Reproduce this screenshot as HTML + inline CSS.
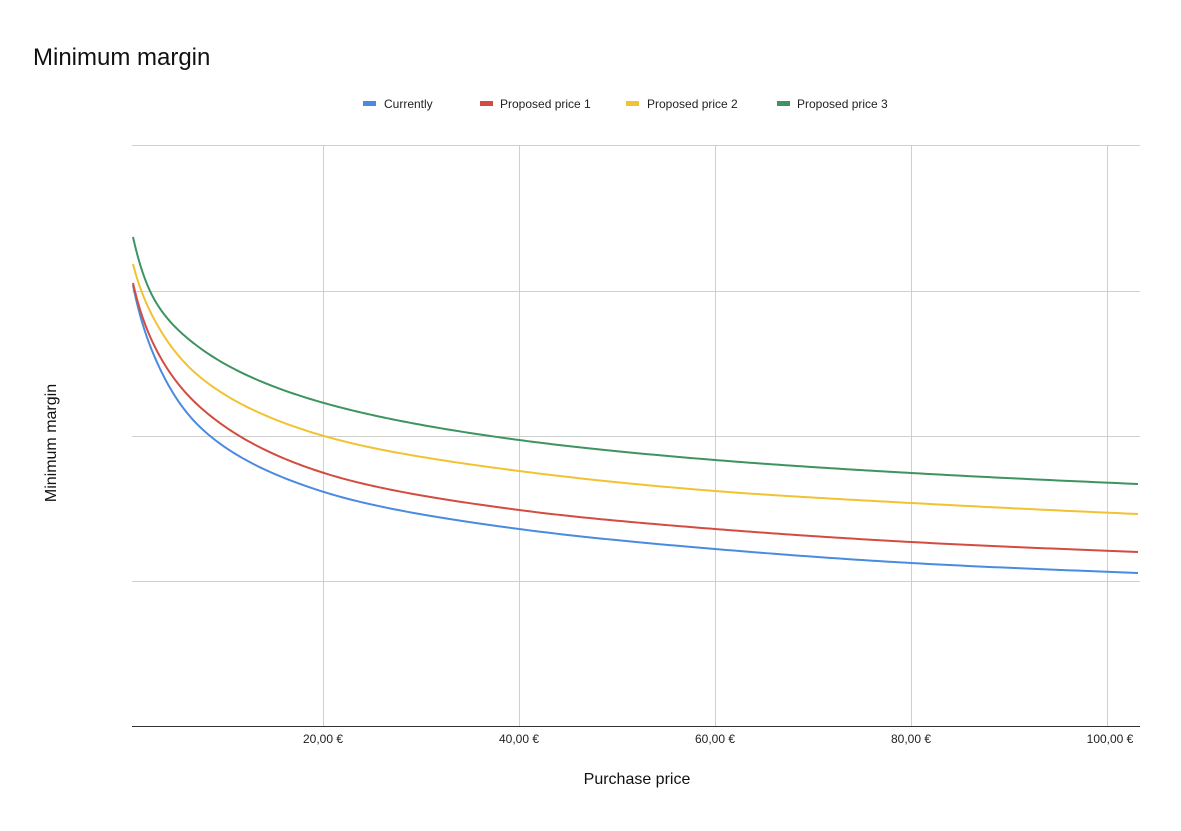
<!DOCTYPE html>
<html><head><meta charset="utf-8"><style>
body{margin:0;background:#fff;}
svg{display:block;font-family:"Liberation Sans",sans-serif;}
</style></head><body>
<svg id="c" width="1181" height="831" viewBox="0 0 1181 831" xmlns="http://www.w3.org/2000/svg">
<rect width="1181" height="831" fill="#fff"/>
<text x="33" y="65" font-size="24" fill="#111">Minimum margin</text>
<g font-size="12" fill="#222">
<rect x="363" y="101" width="13" height="5" fill="#4a8be0"/><text x="384" y="108">Currently</text>
<rect x="480" y="101" width="13" height="5" fill="#d24c3f"/><text x="500" y="108">Proposed price 1</text>
<rect x="626" y="101" width="13" height="5" fill="#f2c232"/><text x="647" y="108">Proposed price 2</text>
<rect x="777" y="101" width="13" height="5" fill="#3f9360"/><text x="797" y="108">Proposed price 3</text>
</g>
<g stroke="#cfcfcf" stroke-width="1">
<line x1="132" y1="145.5" x2="1140" y2="145.5"/>
<line x1="132" y1="291.5" x2="1140" y2="291.5"/>
<line x1="132" y1="436.5" x2="1140" y2="436.5"/>
<line x1="132" y1="581.5" x2="1140" y2="581.5"/>
<line x1="323.5" y1="145" x2="323.5" y2="726"/>
<line x1="519.5" y1="145" x2="519.5" y2="726"/>
<line x1="715.5" y1="145" x2="715.5" y2="726"/>
<line x1="911.5" y1="145" x2="911.5" y2="726"/>
<line x1="1107.5" y1="145" x2="1107.5" y2="726"/>
</g>
<line x1="132" y1="726.5" x2="1140" y2="726.5" stroke="#333" stroke-width="1"/>
<g font-size="12" fill="#222" text-anchor="middle">
<text x="323" y="743">20,00 €</text>
<text x="519" y="743">40,00 €</text>
<text x="715" y="743">60,00 €</text>
<text x="911" y="743">80,00 €</text>
<text x="1110" y="743">100,00 €</text>
</g>
<text x="637" y="784" font-size="16" fill="#111" text-anchor="middle">Purchase price</text>
<text transform="translate(56,443) rotate(-90)" font-size="16" fill="#111" text-anchor="middle">Minimum margin</text>
<g id="lines" fill="none" stroke-width="2" stroke-linejoin="round"></g>
</svg>
<script>
var series=[
["#4a8be0",[[133,285],[153,353],[200,427],[324,492],[519,529],[715,549],[911,563],[1138,573]]],
["#d24c3f",[[133,283],[153,343],[200,407],[324,473],[519,510],[715,529],[911,542],[1138,552]]],
["#f2c232",[[133,264],[153,317],[200,377],[324,436],[519,471],[715,491],[911,503],[1138,514]]],
["#3f9360",[[133,237],[153,297],[200,348],[324,403],[519,440],[715,460],[911,473],[1138,484]]]
];
function T(px){return Math.log((px-127)/9.8+1.2);}
function TI(t){return (Math.exp(t)-1.2)*9.8+127;}
var g=document.getElementById('lines');
series.forEach(function(s){
 var p=s[1].map(function(q){return [T(q[0]),q[1]];});
 var n=p.length,m=[];
 for(var i=0;i<n;i++){
  if(i==0)m.push((p[1][1]-p[0][1])/(p[1][0]-p[0][0]));
  else if(i==n-1)m.push((p[n-1][1]-p[n-2][1])/(p[n-1][0]-p[n-2][0]));
  else m.push((p[i+1][1]-p[i-1][1])/(p[i+1][0]-p[i-1][0]));
 }
 var d="";
 for(var i=0;i<n-1;i++){
  var h=p[i+1][0]-p[i][0];
  for(var k=0;k<=40;k++){
   var u=k/40,t=p[i][0]+u*h;
   var h00=2*u*u*u-3*u*u+1,h10=u*u*u-2*u*u+u,h01=-2*u*u*u+3*u*u,h11=u*u*u-u*u;
   var y=h00*p[i][1]+h10*h*m[i]+h01*p[i+1][1]+h11*h*m[i+1];
   d+=(d?" L":"M")+TI(t).toFixed(2)+","+y.toFixed(2);
  }
 }
 var e=document.createElementNS("http://www.w3.org/2000/svg","path");
 e.setAttribute("d",d);e.setAttribute("stroke",s[0]);g.appendChild(e);
});
</script>
</body></html>
